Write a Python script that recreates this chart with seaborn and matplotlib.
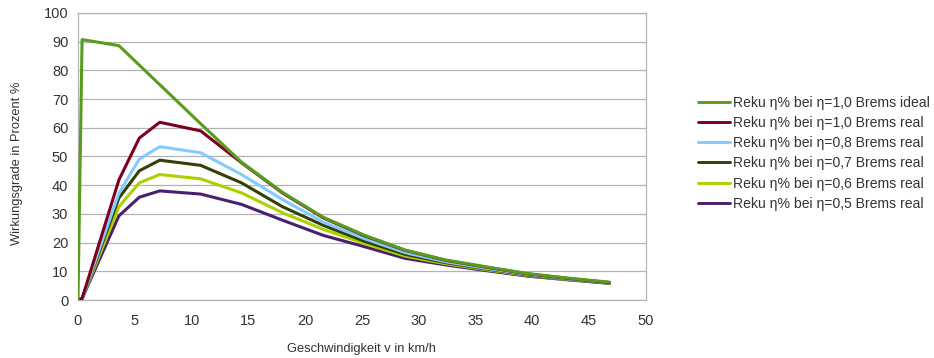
import matplotlib
matplotlib.use("Agg")
import matplotlib.pyplot as plt
import seaborn as sns
import pandas as pd

speed_kmh = [0, 0.36, 3.6, 5.4, 7.2, 10.8, 14.4, 18, 21.6, 25.2, 28.8, 32.4, 36, 39.6, 43.2, 46.8]

ideal_10 = [0, 90.7, 88.6, 81.8, 75.0, 61.4, 48.0, 37.5, 28.8, 22.6, 17.4, 13.9, 11.5, 9.2, 7.6, 6.2]
real_10 = [0, 0.5, 41.8, 56.4, 61.9, 58.9, 47.8, 37.3, 28.6, 22.4, 17.3, 13.8, 11.4, 9.1, 7.5, 6.1]
real_08 = [0, 0.5, 37.2, 49.1, 53.4, 51.3, 43.7, 35.0, 27.1, 21.4, 16.5, 13.3, 11.0, 8.9, 7.3, 6.0]
real_07 = [0, 0.5, 35.5, 45.0, 48.7, 46.9, 40.8, 32.5, 26.0, 20.5, 15.9, 13.0, 10.8, 8.7, 7.2, 5.9]
real_06 = [0, 0.5, 32.5, 40.8, 43.7, 42.2, 37.3, 30.4, 24.6, 19.7, 15.3, 12.6, 10.5, 8.5, 7.1, 5.9]
real_05 = [0, 0.5, 29.3, 35.8, 38.0, 36.9, 33.3, 27.8, 22.5, 18.6, 14.5, 12.2, 10.2, 8.3, 7.0, 5.8]

series_names = [
    "Reku η% bei η=1,0 Brems ideal",
    "Reku η% bei η=1,0 Brems real",
    "Reku η% bei η=0,8 Brems real",
    "Reku η% bei η=0,7 Brems real",
    "Reku η% bei η=0,6 Brems real",
    "Reku η% bei η=0,5 Brems real",
]
series_values = [ideal_10, real_10, real_08, real_07, real_06, real_05]
colors = ["#579d1c", "#7e0021", "#83caff", "#314004", "#aecf00", "#4b1f6f"]

rows = []
for name, vals in zip(series_names, series_values):
    for i, (x, y) in enumerate(zip(speed_kmh, vals)):
        rows.append({"v": x, "eta": y, "series": name, "order": i})
df = pd.DataFrame(rows)

sns.set_style("white")
plt.rcParams["font.family"] = ["Liberation Sans", "DejaVu Sans"]

fig = plt.figure(figsize=(9.34, 3.58), dpi=100)
ax = fig.add_axes([0.0835, 0.162, 0.608, 0.802])

sns.lineplot(data=df, x="v", y="eta", hue="series", hue_order=series_names,
             palette=colors, sort=False, estimator=None, linewidth=2.2,
             ax=ax, legend=False)
for line, name in zip(ax.get_lines(), series_names):
    line.set_zorder(10 - series_names.index(name))
    line.set_solid_joinstyle("round")

ax.set_xlim(0, 50)
ax.set_ylim(0, 100)
ax.set_xticks(range(0, 51, 5))
ax.set_yticks(range(0, 101, 10))
ax.yaxis.grid(True, color="#b3b3b3", linewidth=0.9)
ax.xaxis.grid(False)
ax.set_axisbelow(True)
for s in ax.spines.values():
    s.set_color("#b3b3b3")
    s.set_linewidth(0.9)
ax.tick_params(axis="both", which="major", direction="out", length=4,
               color="#b3b3b3", width=0.9, labelsize=10.5, labelcolor="#333333")
ax.tick_params(axis="x", pad=6)
ax.tick_params(axis="y", pad=3)

ax.set_xlabel("Geschwindigkeit v in km/h", fontsize=9.3, color="#333333", labelpad=11)
ax.set_ylabel("Wirkungsgrade in Prozent %", fontsize=9.3, color="#333333")
ax.yaxis.set_label_coords(-0.097, 0.477)

from matplotlib.lines import Line2D
handles = [Line2D([0], [0], color=c, linewidth=2.1) for c in colors]
fig.legend(handles, series_names, loc="upper left", bbox_to_anchor=(0.741, 0.748),
           frameon=False, fontsize=10.1, handlelength=2.3, handletextpad=0.25,
           labelspacing=0.44, borderaxespad=0, labelcolor="#333333")

fig.savefig("out.png", dpi=100)
